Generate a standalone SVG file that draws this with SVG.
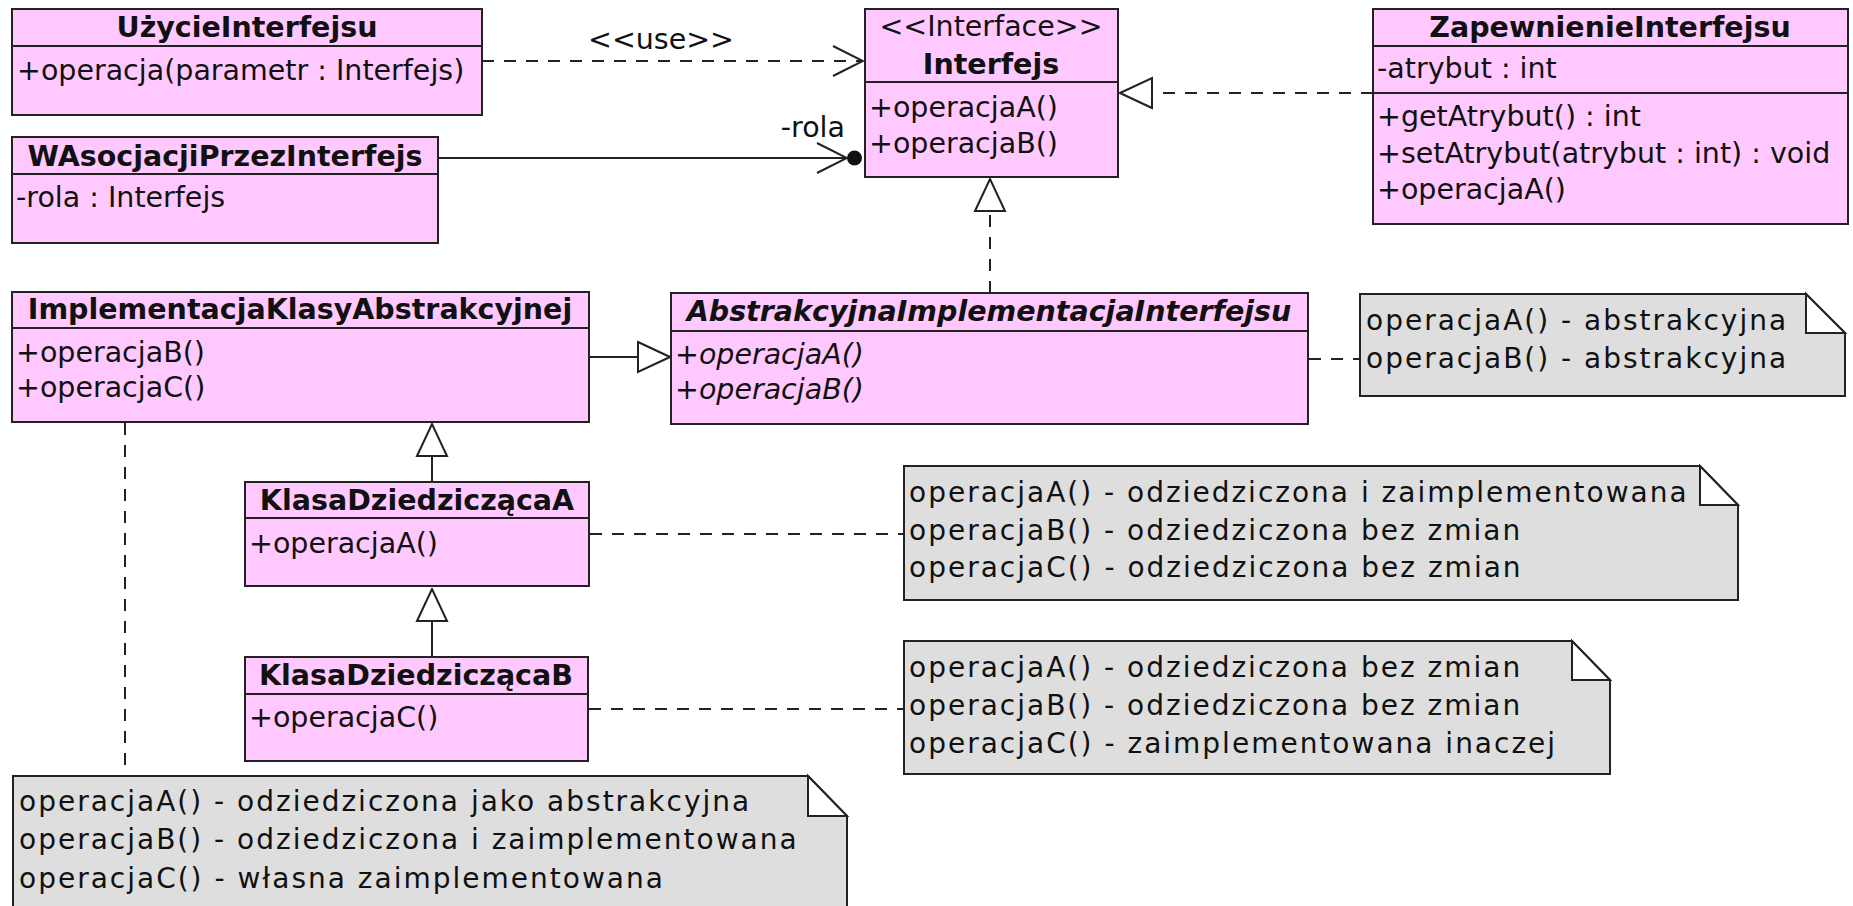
<svg xmlns="http://www.w3.org/2000/svg" width="1853" height="906" viewBox="0 0 1853 906">
<style>
.box{fill:#ffc9ff;stroke:#222;stroke-width:2}
.sep{stroke:#222;stroke-width:2}
.note{fill:#dedede;stroke:#222;stroke-width:2}
.fold{fill:#fff;stroke:#222;stroke-width:2}
.t{font-family:"DejaVu Sans","Liberation Sans",sans-serif;font-size:28.5px;fill:#111}
.b{font-weight:bold}
.i{font-style:italic}
.c{text-anchor:middle}
.nt{font-family:"DejaVu Sans","Liberation Sans",sans-serif;font-size:28px;letter-spacing:2px;fill:#111}
.ln{fill:none;stroke:#222;stroke-width:2}
.dash{stroke-dasharray:12 10}
</style>
<defs>
<marker id="tri" viewBox="0 0 34 34" refX="33" refY="17" markerWidth="34" markerHeight="34" markerUnits="userSpaceOnUse" orient="auto">
<path d="M1,2 L33,17 L1,32 Z" fill="#fff" stroke="#222" stroke-width="2"/>
</marker>
<marker id="open" viewBox="0 0 34 34" refX="32" refY="17" markerWidth="34" markerHeight="34" markerUnits="userSpaceOnUse" orient="auto">
<path d="M2,2 L32,17 L2,32" fill="none" stroke="#222" stroke-width="2"/>
</marker>
</defs>

<g id="connectors">
<path class="ln dash" d="M482,61 H863" marker-end="url(#open)"/>
<text class="t c" x="661" y="49">&lt;&lt;use&gt;&gt;</text>
<path class="ln" d="M438,158 H847" marker-end="url(#open)"/>
<circle cx="854.5" cy="158" r="7.5" fill="#111"/>
<text class="t" x="845" y="137" text-anchor="end">-rola</text>
<path class="ln dash" d="M1373,93 H1120" marker-end="url(#tri)"/>
<path class="ln dash" d="M990,293 V179" marker-end="url(#tri)"/>
<path class="ln" d="M589,357 H670" marker-end="url(#tri)"/>
<path class="ln" d="M432,482 V424" marker-end="url(#tri)"/>
<path class="ln" d="M432,657 V589" marker-end="url(#tri)"/>
<path class="ln dash" d="M125,423 V776"/>
<path class="ln dash" d="M1309,359 H1360"/>
<path class="ln dash" d="M590,534 H904"/>
<path class="ln dash" d="M589,709 H904"/>
</g>

<g id="UzycieInterfejsu">
<rect class="box" x="12" y="9" width="470" height="106"/>
<line class="sep" x1="12" y1="46" x2="482" y2="46"/>
<text class="t b c" x="247" y="37">UżycieInterfejsu</text>
<text class="t" x="17" y="80">+operacja(parametr : Interfejs)</text>
</g>

<g id="WAsocjacjiPrzezInterfejs">
<rect class="box" x="12" y="137" width="426" height="106"/>
<line class="sep" x1="12" y1="174" x2="438" y2="174"/>
<text class="t b c" x="225" y="166">WAsocjacjiPrzezInterfejs</text>
<text class="t" x="16" y="207">-rola : Interfejs</text>
</g>

<g id="Interfejs">
<rect class="box" x="865" y="9" width="253" height="168"/>
<line class="sep" x1="865" y1="82" x2="1118" y2="82"/>
<text class="t c" x="991" y="36">&lt;&lt;Interface&gt;&gt;</text>
<text class="t b c" x="991" y="74">Interfejs</text>
<text class="t" x="869" y="117">+operacjaA()</text>
<text class="t" x="869" y="153">+operacjaB()</text>
</g>

<g id="ZapewnienieInterfejsu">
<rect class="box" x="1373" y="9" width="475" height="215"/>
<line class="sep" x1="1373" y1="46" x2="1848" y2="46"/>
<line class="sep" x1="1373" y1="93" x2="1848" y2="93"/>
<text class="t b c" x="1610" y="37">ZapewnienieInterfejsu</text>
<text class="t" x="1377" y="78">-atrybut : int</text>
<text class="t" x="1377" y="126">+getAtrybut() : int</text>
<text class="t" x="1377" y="163">+setAtrybut(atrybut : int) : void</text>
<text class="t" x="1377" y="199">+operacjaA()</text>
</g>

<g id="ImplementacjaKlasyAbstrakcyjnej">
<rect class="box" x="12" y="292" width="577" height="130"/>
<line class="sep" x1="12" y1="328" x2="589" y2="328"/>
<text class="t b c" x="300" y="319">ImplementacjaKlasyAbstrakcyjnej</text>
<text class="t" x="16" y="362">+operacjaB()</text>
<text class="t" x="16" y="397">+operacjaC()</text>
</g>

<g id="AbstrakcyjnaImplementacjaInterfejsu">
<rect class="box" x="671" y="293" width="637" height="131"/>
<line class="sep" x1="671" y1="331" x2="1308" y2="331"/>
<text class="t b i c" x="989" y="321">AbstrakcyjnaImplementacjaInterfejsu</text>
<text class="t i" x="675" y="364">+operacjaA()</text>
<text class="t i" x="675" y="399">+operacjaB()</text>
</g>

<g id="KlasaDziedziczacaA">
<rect class="box" x="245" y="482" width="344" height="104"/>
<line class="sep" x1="245" y1="518" x2="589" y2="518"/>
<text class="t b c" x="417" y="510">KlasaDziedziczącaA</text>
<text class="t" x="249" y="553">+operacjaA()</text>
</g>

<g id="KlasaDziedziczacaB">
<rect class="box" x="245" y="657" width="343" height="104"/>
<line class="sep" x1="245" y1="694" x2="588" y2="694"/>
<text class="t b c" x="416" y="685">KlasaDziedziczącaB</text>
<text class="t" x="249" y="727">+operacjaC()</text>
</g>

<g id="NoteAbstrakcyjna">
<path class="note" d="M1360,294 H1806 L1845,333 V396 H1360 Z"/>
<path class="fold" d="M1806,294 V333 H1845 Z"/>
<text class="nt" x="1366" y="330">operacjaA() - abstrakcyjna</text>
<text class="nt" x="1366" y="368">operacjaB() - abstrakcyjna</text>
</g>

<g id="NoteKlasaA">
<path class="note" d="M904,466 H1700 L1738,505 V600 H904 Z"/>
<path class="fold" d="M1700,466 V505 H1738 Z"/>
<text class="nt" x="909" y="502">operacjaA() - odziedziczona i zaimplementowana</text>
<text class="nt" x="909" y="540">operacjaB() - odziedziczona bez zmian</text>
<text class="nt" x="909" y="577">operacjaC() - odziedziczona bez zmian</text>
</g>

<g id="NoteKlasaB">
<path class="note" d="M904,641 H1572 L1610,680 V774 H904 Z"/>
<path class="fold" d="M1572,641 V680 H1610 Z"/>
<text class="nt" x="909" y="677">operacjaA() - odziedziczona bez zmian</text>
<text class="nt" x="909" y="715">operacjaB() - odziedziczona bez zmian</text>
<text class="nt" x="909" y="753">operacjaC() - zaimplementowana inaczej</text>
</g>

<g id="NoteImplementacja">
<path class="note" d="M13,776 H808 L847,816 V930 H13 Z"/>
<path class="fold" d="M808,776 V816 H847 Z"/>
<text class="nt" x="19" y="811">operacjaA() - odziedziczona jako abstrakcyjna</text>
<text class="nt" x="19" y="849">operacjaB() - odziedziczona i zaimplementowana</text>
<text class="nt" x="19" y="888">operacjaC() - własna zaimplementowana</text>
</g>
</svg>
